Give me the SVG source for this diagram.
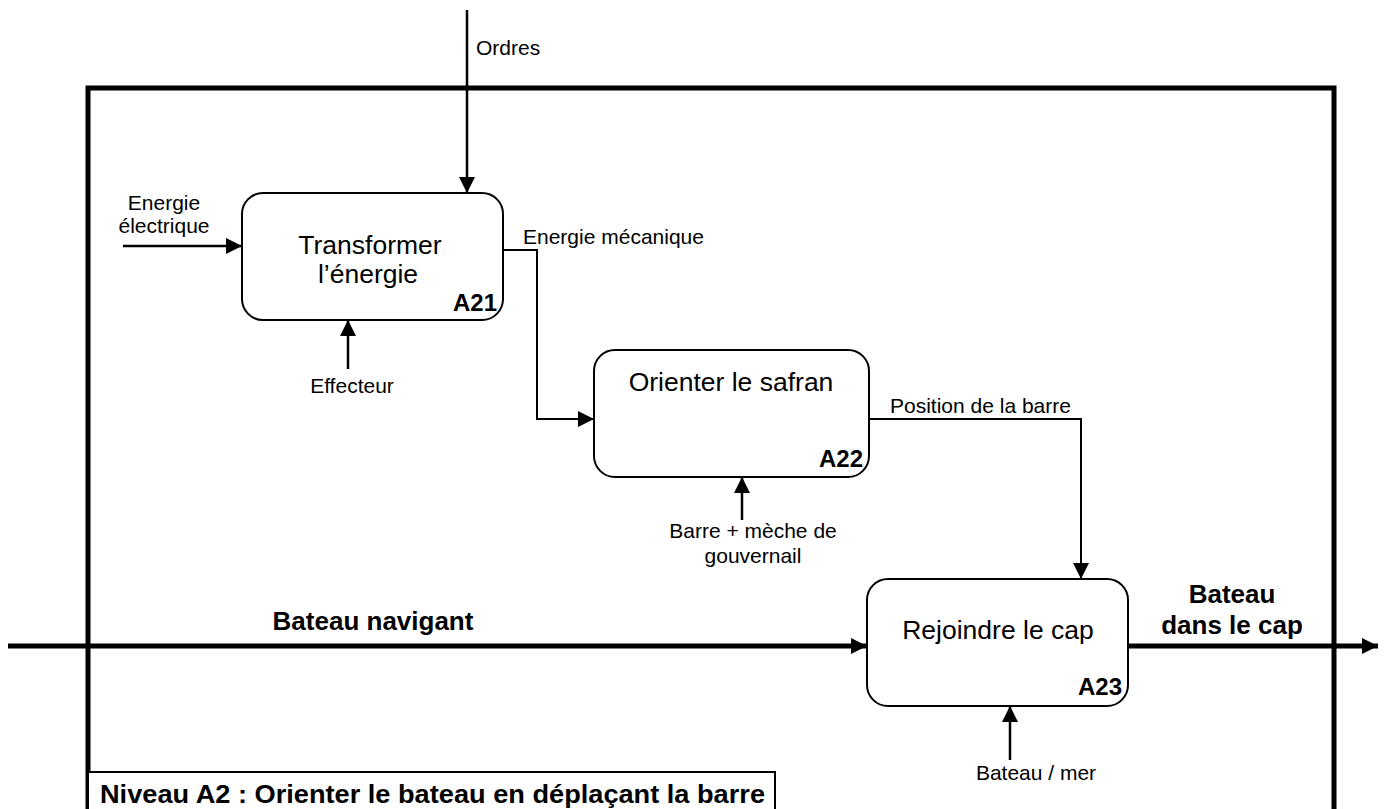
<svg xmlns="http://www.w3.org/2000/svg" width="1385" height="809" viewBox="0 0 1385 809">
<style>
  text { font-family: "Liberation Sans", Arial, sans-serif; fill: #000; }
  .lbl { font-size: 21px; }
  .big { font-size: 26.5px; }
  .bold { font-size: 26px; font-weight: bold; }
  .code { font-size: 24px; font-weight: bold; text-anchor: end; }
  .mid { text-anchor: middle; }
  .box { fill: #fff; stroke: #000; stroke-width: 2; }
  .arr { fill: none; stroke: #000; stroke-width: 2.5; }
  .thin { fill: none; stroke: #000; stroke-width: 2; }
  .thick { fill: none; stroke: #000; stroke-width: 5; }
</style>
<defs>
  <marker id="ah" markerUnits="userSpaceOnUse" markerWidth="16" markerHeight="16" refX="16" refY="8" orient="auto">
    <path d="M0,0 L16,8 L0,16 z" fill="#000"/>
  </marker>
</defs>
<rect width="1385" height="809" fill="#fff"/>
<g id="frame">
  <rect x="88" y="88" width="1246" height="740" fill="none" stroke="#000" stroke-width="5"/>
</g>
<g id="connectors">
  <line class="arr" x1="467" y1="10" x2="467" y2="193" marker-end="url(#ah)"/>
  <line class="arr" x1="123" y1="246" x2="242" y2="246" marker-end="url(#ah)"/>
  <line class="arr" x1="348" y1="369" x2="348" y2="320" marker-end="url(#ah)"/>
  <path class="thin" d="M503,250 H537 V419 H594" marker-end="url(#ah)"/>
  <line class="arr" x1="742" y1="520" x2="742" y2="477" marker-end="url(#ah)"/>
  <path class="thin" d="M869,419 H1081 V579" marker-end="url(#ah)"/>
  <line class="arr" x1="1010" y1="760" x2="1010" y2="706" marker-end="url(#ah)"/>
  <line class="thick" x1="8" y1="646" x2="867" y2="646" marker-end="url(#ah)"/>
  <line class="thick" x1="1128" y1="646" x2="1378" y2="646" marker-end="url(#ah)"/>
</g>
<g id="labels">
  <text class="lbl" x="476" y="55">Ordres</text>
  <text class="lbl mid" x="164" y="210">Energie</text>
  <text class="lbl mid" x="164" y="233">électrique</text>
  <text class="lbl mid" x="352" y="393">Effecteur</text>
  <text class="lbl" x="523" y="244">Energie mécanique</text>
  <text class="lbl" x="890" y="413">Position de la barre</text>
  <text class="lbl mid" x="753" y="538">Barre + mèche de</text>
  <text class="lbl mid" x="753" y="563">gouvernail</text>
  <text class="lbl mid" x="1036" y="780">Bateau / mer</text>
  <text class="bold mid" x="373" y="630">Bateau navigant</text>
  <text class="bold mid" x="1232" y="603">Bateau</text>
  <text class="bold mid" x="1232" y="634">dans le cap</text>
</g>
<g id="A21">
  <rect class="box" x="242" y="193" width="261" height="127" rx="21"/>
  <text class="big mid" x="370" y="254">Transformer</text>
  <text class="big mid" x="368" y="283">l’énergie</text>
  <text class="code" x="497" y="311">A21</text>
</g>
<g id="A22">
  <rect class="box" x="594" y="350" width="275" height="127" rx="21"/>
  <text class="big mid" x="731" y="391">Orienter le safran</text>
  <text class="code" x="863" y="467">A22</text>
</g>
<g id="A23">
  <rect class="box" x="867" y="579" width="261" height="127" rx="21"/>
  <text class="big mid" x="998" y="639">Rejoindre le cap</text>
  <text class="code" x="1122" y="695">A23</text>
</g>
<g id="title">
  <rect x="88" y="772" width="687" height="45" fill="#fff" stroke="#000" stroke-width="2"/>
  <text x="100" y="803" style="font-size:26.5px;font-weight:bold" textLength="665" lengthAdjust="spacingAndGlyphs">Niveau A2 : Orienter le bateau en déplaçant la barre</text>
</g>
</svg>
